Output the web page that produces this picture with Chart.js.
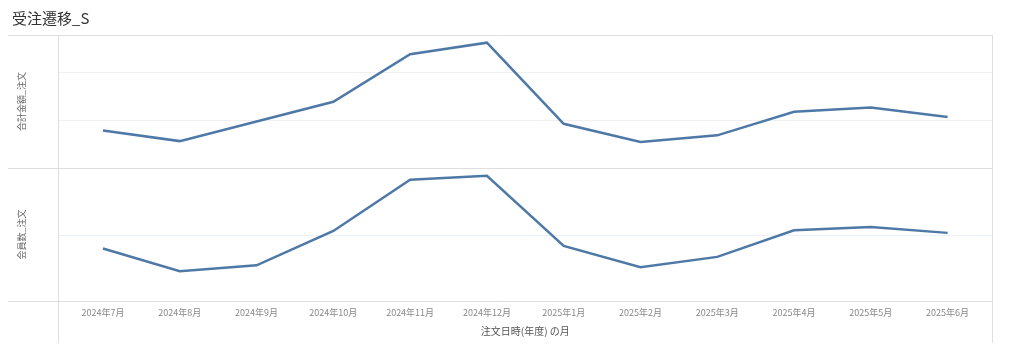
<!DOCTYPE html>
<html>
<head>
<meta charset="utf-8">
<script src="https://cdn.jsdelivr.net/npm/chart.js@4/dist/chart.umd.min.js"></script>
<style>
  body { margin: 0; background: #ffffff; }
  canvas { display: block; }
</style>
</head>
<body>
<canvas id="orderChart" width="1024" height="355"></canvas>
<script>
// 注文日時(年度) の月
const months = ['2024年7月', '2024年8月', '2024年9月', '2024年10月', '2024年11月', '2024年12月',
                '2025年1月', '2025年2月', '2025年3月', '2025年4月', '2025年5月', '2025年6月'];
// 合計金額_注文 (上段)
const amountValues = [78, 56, 97, 138, 237, 261, 92, 54, 68, 117, 126, 106];
// 会員数_注文 (下段)
const memberValues = [81, 46, 55, 108, 187, 193, 85, 52, 68, 109, 114, 105];

const amountMax = 277;
const memberMax = 205;
const gridStep = 100;

const lineColor = '#4e79a7';
const frameColor = '#dedede';

Chart.defaults.font.family = '"Noto Sans CJK JP", "Noto Sans", sans-serif';
Chart.defaults.color = '#888888';

// Tableau風の枠線とグリッド線 (枠の端まで伸ばす)
const framePlugin = {
    id: 'frame',
    beforeDatasetsDraw(chart) {
        const ctx = chart.ctx;
        const area = chart.chartArea;
        const top = chart.scales.yAmount;
        const bottom = chart.scales.yMembers;
        const left = Math.round(area.left - 7) + 0.5;
        const right = Math.round(area.right + 6) + 0.5;
        ctx.save();
        ctx.lineWidth = 1;

        // グリッド線
        [[top, '#f0f0f0'], [bottom, '#edf2f8']].forEach(function(pair) {
            const scale = pair[0];
            ctx.strokeStyle = pair[1];
            ctx.beginPath();
            scale.ticks.forEach(function(t) {
                if (t.value <= scale.min) return;
                const yy = Math.round(scale.getPixelForValue(t.value)) + 0.5;
                ctx.moveTo(left, yy);
                ctx.lineTo(right, yy);
            });
            ctx.stroke();
        });

        // 枠線
        ctx.strokeStyle = frameColor;
        ctx.beginPath();
        [top.top, top.bottom, bottom.bottom].forEach(function(y) {
            const yy = Math.round(y) + 0.5;
            ctx.moveTo(8, yy);
            ctx.lineTo(right, yy);
        });
        ctx.moveTo(left, Math.round(top.top));
        ctx.lineTo(left, 343);
        ctx.moveTo(right, Math.round(top.top));
        ctx.lineTo(right, 343);
        ctx.stroke();
        ctx.restore();
    }
};

new Chart(document.getElementById('orderChart').getContext('2d'), {
    type: 'line',
    data: {
        labels: months,
        datasets: [
            {
                label: '合計金額_注文',
                data: amountValues,
                yAxisID: 'yAmount',
                borderColor: lineColor,
                borderWidth: 2.5,
                pointRadius: 0,
                tension: 0,
                fill: false
            },
            {
                label: '会員数_注文',
                data: memberValues,
                yAxisID: 'yMembers',
                borderColor: lineColor,
                borderWidth: 2.5,
                pointRadius: 0,
                tension: 0,
                fill: false
            }
        ]
    },
    options: {
        responsive: false,
        animation: false,
        layout: {
            padding: { left: 12, right: 38, top: 0, bottom: 0 }
        },
        plugins: {
            legend: { display: false },
            tooltip: { enabled: false },
            title: {
                display: true,
                text: '受注遷移_S',
                align: 'start',
                color: '#333333',
                font: { size: 15, weight: 'normal' },
                padding: { top: 9, bottom: 8 }
            }
        },
        scales: {
            x: {
                offset: true,
                grid: { display: false, drawTicks: false },
                border: { display: false },
                ticks: {
                    color: '#888888',
                    font: { size: 9 },
                    padding: 6,
                    maxRotation: 0,
                    autoSkip: false
                },
                title: {
                    display: true,
                    text: '注文日時(年度) の月',
                    color: '#555555',
                    font: { size: 10 },
                    padding: { top: 4, bottom: 18 }
                },
                afterFit(scale) { scale.height = 54; }
            },
            yMembers: {
                type: 'linear',
                position: 'left',
                stack: 'panes',
                stackWeight: 1,
                weight: 0,
                min: 0,
                max: memberMax,
                grid: { display: false, drawTicks: false },
                border: { display: false },
                ticks: { display: false, stepSize: gridStep, includeBounds: false },
                title: {
                    display: true,
                    text: '会員数_注文',
                    color: '#666666',
                    font: { size: 9 },
                    padding: { top: 4, bottom: 0 }
                },
                afterFit(scale) { scale.width = 52.6; }
            },
            yAmount: {
                type: 'linear',
                position: 'left',
                stack: 'panes',
                stackWeight: 1,
                weight: 1,
                min: 0,
                max: amountMax,
                grid: { display: false, drawTicks: false },
                border: { display: false },
                ticks: { display: false, stepSize: gridStep, includeBounds: false },
                title: {
                    display: true,
                    text: '合計金額_注文',
                    color: '#666666',
                    font: { size: 9 },
                    padding: { top: 4, bottom: 0 }
                },
                afterFit(scale) { scale.width = 52.6; }
            }
        }
    },
    plugins: [framePlugin]
});
</script>
</body>
</html>
